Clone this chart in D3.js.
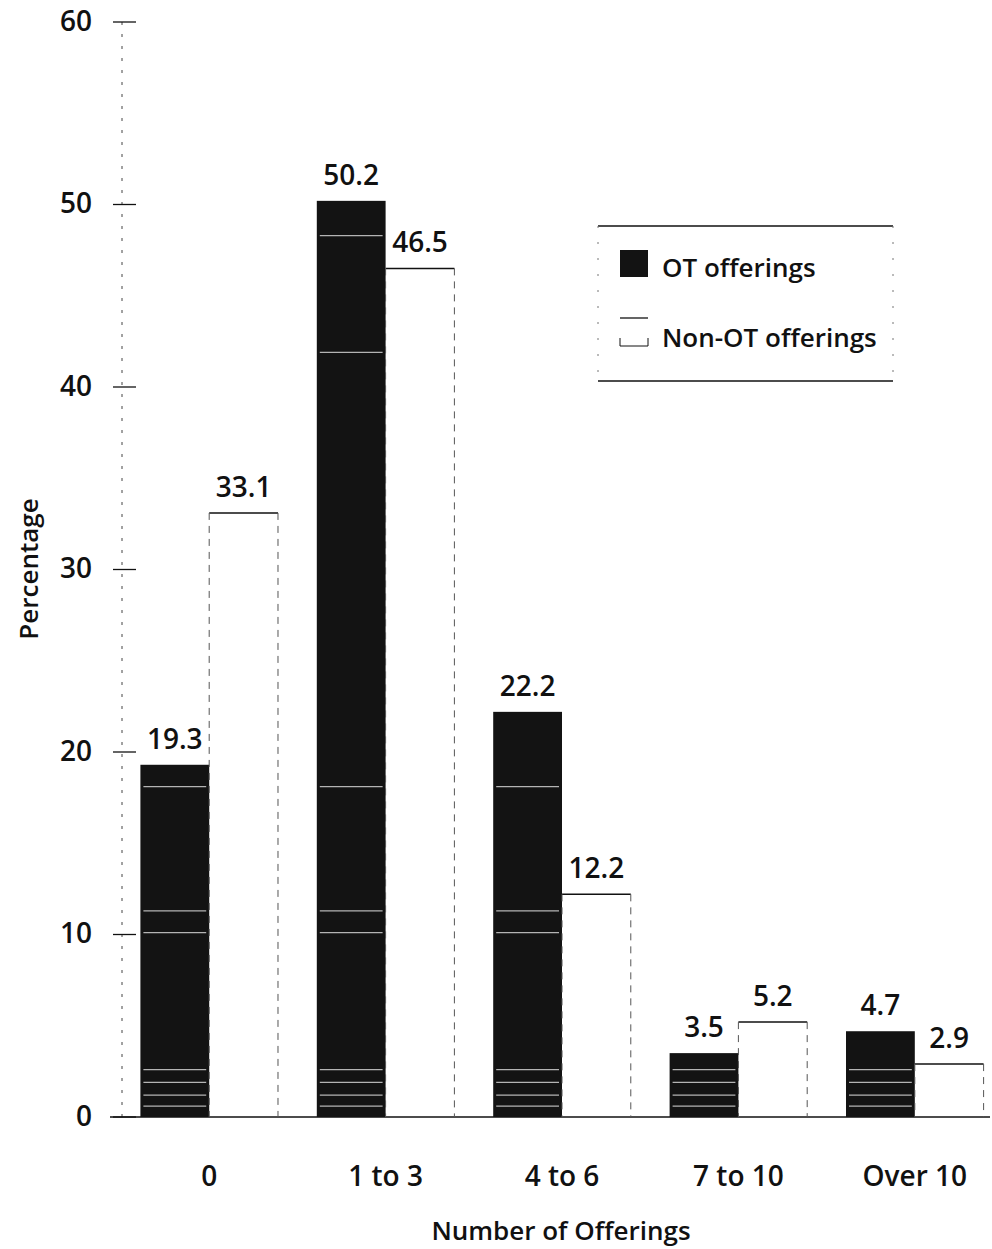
<!DOCTYPE html>
<html><head><meta charset="utf-8">
<script src="https://cdn.jsdelivr.net/npm/d3@7"></script>
<style>body{margin:0;background:#fff}svg{display:block}text{font-family:"Open Sans","DejaVu Sans",sans-serif;font-weight:600;fill:#111}</style>
</head><body><div id="c"></div>
<script>
const categories = ["0","1 to 3","4 to 6","7 to 10","Over 10"];
const series = ["OT offerings","Non-OT offerings"];
const otValues = [19.3,50.2,22.2,3.5,4.7];
const nonOtValues = [33.1,46.5,12.2,5.2,2.9];
const yTicks = [0,10,20,30,40,50,60];
const stripeLevels = [48.3,41.9,18.1,11.3,10.1,2.6,1.9,1.2,0.6];

const W=992,H=1249;
const FONT='"Open Sans","DejaVu Sans",sans-serif';
const svg=d3.select("#c").append("svg").attr("width",W).attr("height",H);
const x=d3.scaleBand().domain(categories).range([121,1003]).paddingInner(0.22).paddingOuter(0.11);
const xs=d3.scaleBand().domain(series).range([0,x.bandwidth()]);
const y=d3.scaleLinear().domain([0,60]).range([1117,22]);
const axisX=122;

// y axis dashed line
svg.append("line").attr("x1",axisX).attr("x2",axisX).attr("y1",y(60)).attr("y2",y(0))
  .attr("stroke","#444").attr("stroke-width",1).attr("stroke-dasharray","3,9");
// ticks + labels
const ya=svg.append("g").attr("transform",`translate(${axisX},0)`)
  .call(d3.axisLeft(y).tickValues(yTicks).tickSize(0).tickPadding(30));
ya.select(".domain").remove();
ya.selectAll("text").attr("font-size",28).style("font-family",FONT).style("font-weight",600).attr("fill","#111").attr("dy","0.3em");
svg.selectAll(".tk").data(yTicks).join("line").attr("class","tk")
  .attr("x1",axisX-9).attr("x2",axisX+14).attr("y1",d=>y(d)).attr("y2",d=>y(d))
  .attr("stroke","#111").attr("stroke-width",1.3);

// baseline
svg.append("line").attr("x1",110).attr("x2",990).attr("y1",y(0)).attr("y2",y(0)).attr("stroke","#111").attr("stroke-width",1.6);

const rows=categories.map((c,i)=>({c,ot:otValues[i],non:nonOtValues[i]}));
const g=svg.selectAll(".grp").data(rows).join("g").attr("transform",d=>`translate(${x(d.c)},0)`);
const bw=xs.bandwidth();
// OT bars
g.append("rect").attr("x",xs(series[0])).attr("width",bw).attr("y",d=>y(d.ot)).attr("height",d=>y(0)-y(d.ot)).attr("fill","#131313");
// stripes
g.each(function(d){
  d3.select(this).selectAll(".st").data(stripeLevels.filter(s=>s<d.ot-0.4)).join("line")
    .attr("x1",xs(series[0])+3).attr("x2",xs(series[0])+bw-3).attr("y1",s=>y(s)).attr("y2",s=>y(s))
    .attr("stroke","#ddd").attr("stroke-width",1.2).attr("opacity",0.8);
});
// Non-OT bars: top line, dashed sides
g.append("line").attr("x1",xs(series[1])).attr("x2",xs(series[1])+bw).attr("y1",d=>y(d.non)).attr("y2",d=>y(d.non)).attr("stroke","#111").attr("stroke-width",1.5);
g.append("line").attr("x1",xs(series[1])).attr("x2",xs(series[1])).attr("y1",d=>y(d.non)).attr("y2",y(0)).attr("stroke","#555").attr("stroke-width",1).attr("stroke-dasharray","7,6");
g.append("line").attr("x1",xs(series[1])+bw).attr("x2",xs(series[1])+bw).attr("y1",d=>y(d.non)).attr("y2",y(0)).attr("stroke","#555").attr("stroke-width",1).attr("stroke-dasharray","7,6");
// value labels
g.append("text").attr("x",xs(series[0])+bw/2).attr("y",d=>y(d.ot)-16).attr("text-anchor","middle").attr("font-size",28).text(d=>d.ot.toFixed(1));
g.append("text").attr("x",xs(series[1])+bw/2).attr("y",d=>y(d.non)-16).attr("text-anchor","middle").attr("font-size",28).text(d=>d.non.toFixed(1));

// x axis labels
const xa=svg.append("g").attr("transform",`translate(0,${y(0)})`).call(d3.axisBottom(x).tickSize(0).tickPadding(0));
xa.select(".domain").remove();
xa.selectAll("text").attr("font-size",28).style("font-family",FONT).style("font-weight",600).attr("fill","#111").attr("dy",null).attr("y",69);

// titles
svg.append("text").attr("x",561).attr("y",1240).attr("text-anchor","middle").attr("font-size",26).text("Number of Offerings");
svg.append("text").attr("transform","translate(38,569) rotate(-90)").attr("text-anchor","middle").attr("font-size",26).text("Percentage");

// legend
const L=svg.append("g");
L.append("line").attr("x1",598).attr("x2",893).attr("y1",226).attr("y2",226).attr("stroke","#111").attr("stroke-width",1.3);
L.append("line").attr("x1",598).attr("x2",893).attr("y1",381).attr("y2",381).attr("stroke","#111").attr("stroke-width",1.3);
[598,893].forEach(xx=>L.append("line").attr("x1",xx).attr("x2",xx).attr("y1",226).attr("y2",381).attr("stroke","#777").attr("stroke-dasharray","2,14"));
L.append("rect").attr("x",620).attr("y",250).attr("width",28).attr("height",27).attr("fill","#131313");
L.append("text").attr("x",662).attr("y",277).attr("font-size",26).text(series[0]);
L.append("line").attr("x1",620).attr("x2",648).attr("y1",318).attr("y2",318).attr("stroke","#111").attr("stroke-width",1.3);
L.append("path").attr("d","M620,338V346H648V338").attr("fill","none").attr("stroke","#111").attr("stroke-width",1);
L.append("text").attr("x",662).attr("y",347).attr("font-size",26).text(series[1]);
</script></body></html>
